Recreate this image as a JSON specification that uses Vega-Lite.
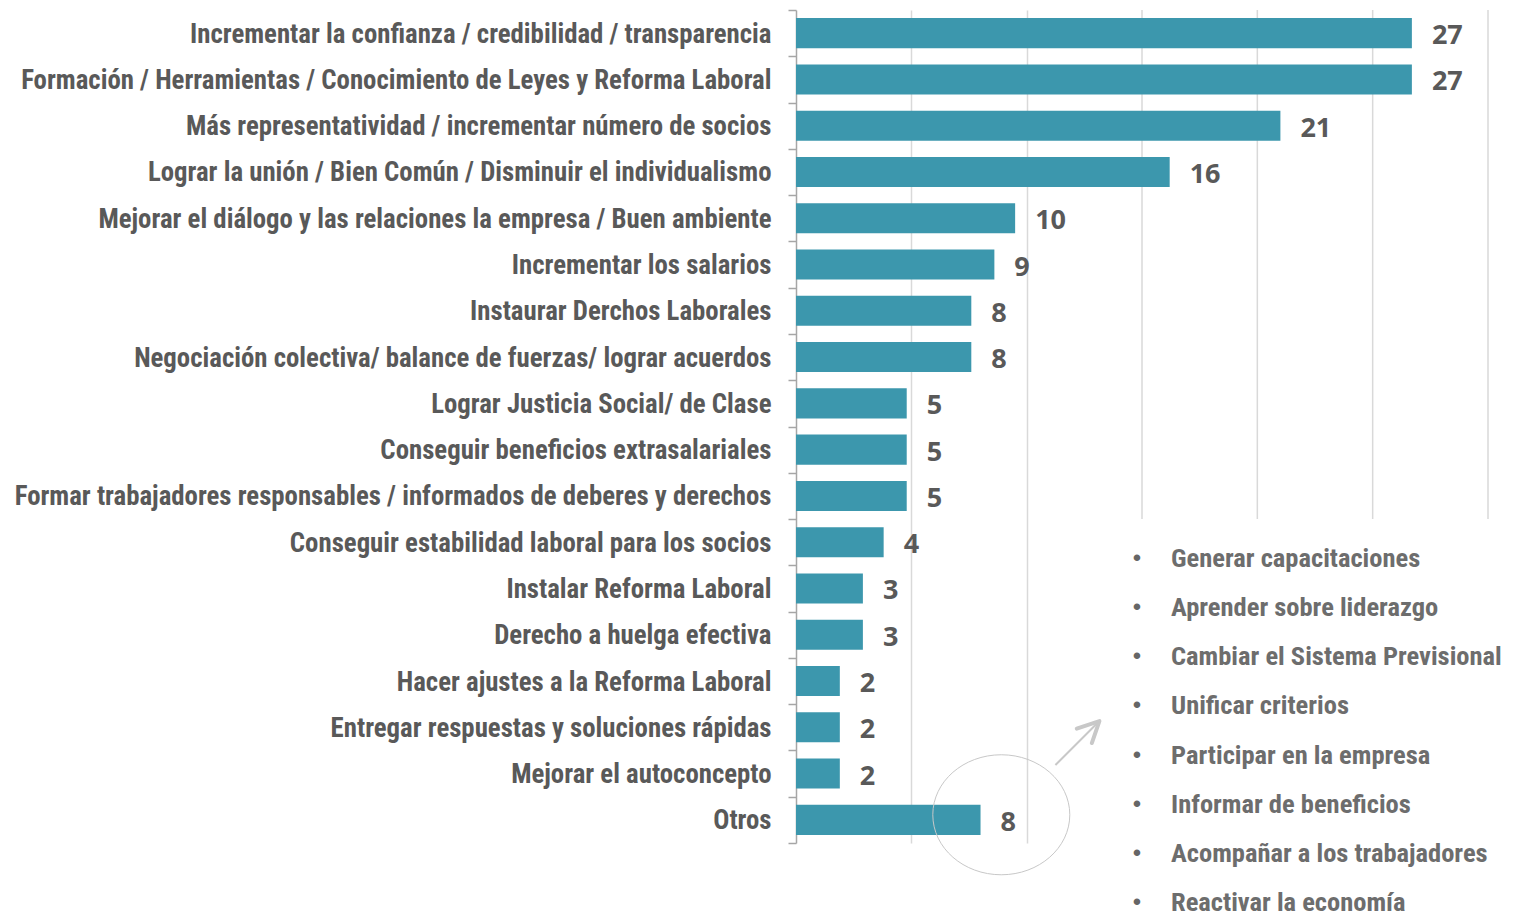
{
  "$schema": "https://vega.github.io/schema/vega-lite/v6.json",
  "width": 692,
  "height": 833,
  "autosize": {"type": "none"},
  "padding": {"left": 796, "top": 10, "right": 32, "bottom": 71},
  "background": "white",
  "config": {"view": {"stroke": null}},
  "datasets": {
    "bars": [
      {"cat": "Incrementar la confianza / credibilidad / transparencia", "value": 26.7},
      {"cat": "Formación / Herramientas / Conocimiento de Leyes y Reforma Laboral", "value": 26.7},
      {"cat": "Más representatividad / incrementar número de socios", "value": 21.0},
      {"cat": "Lograr la unión / Bien Común / Disminuir el individualismo", "value": 16.2},
      {"cat": "Mejorar el diálogo y las relaciones la empresa / Buen ambiente", "value": 9.5},
      {"cat": "Incrementar los salarios", "value": 8.6},
      {"cat": "Instaurar Derchos Laborales", "value": 7.6},
      {"cat": "Negociación colectiva/ balance de fuerzas/ lograr acuerdos", "value": 7.6},
      {"cat": "Lograr Justicia Social/ de Clase", "value": 4.8},
      {"cat": "Conseguir beneficios extrasalariales", "value": 4.8},
      {"cat": "Formar trabajadores responsables / informados de deberes y derechos", "value": 4.8},
      {"cat": "Conseguir estabilidad laboral para los socios", "value": 3.8},
      {"cat": "Instalar Reforma Laboral", "value": 2.9},
      {"cat": "Derecho a huelga efectiva", "value": 2.9},
      {"cat": "Hacer ajustes a la Reforma Laboral", "value": 1.9},
      {"cat": "Entregar respuestas y soluciones rápidas", "value": 1.9},
      {"cat": "Mejorar el autoconcepto", "value": 1.9},
      {"cat": "Otros", "value": 8.0}
    ],
    "grid": [{"tick": 15}, {"tick": 20}, {"tick": 25}, {"tick": 30}],
    "otros": [
      {"order": 1, "item": "Generar capacitaciones"},
      {"order": 2, "item": "Aprender sobre liderazgo"},
      {"order": 3, "item": "Cambiar el Sistema Previsional"},
      {"order": 4, "item": "Unificar criterios"},
      {"order": 5, "item": "Participar en la empresa"},
      {"order": 6, "item": "Informar de beneficios"},
      {"order": 7, "item": "Acompañar a los trabajadores"},
      {"order": 8, "item": "Reactivar la economía"}
    ]
  },
  "layer": [
    {
      "layer": [
        {
          "data": {"name": "grid"},
          "mark": {"type": "rule", "color": "#d9d9d9", "strokeWidth": 1.5},
          "encoding": {
            "x": {
              "field": "tick", "type": "quantitative",
              "scale": {"domain": [0, 30], "nice": false},
              "axis": {"grid": true, "values": [5, 10], "labels": false, "ticks": false, "domain": false, "title": null, "gridColor": "#d9d9d9", "gridWidth": 1.5}
            },
            "y": {
              "datum": "Incrementar la confianza / credibilidad / transparencia", "type": "nominal", "bandPosition": 0,
              "scale": {
                "paddingInner": 0, "paddingOuter": 0,
                "domain": [
                  "Incrementar la confianza / credibilidad / transparencia",
                  "Formación / Herramientas / Conocimiento de Leyes y Reforma Laboral",
                  "Más representatividad / incrementar número de socios",
                  "Lograr la unión / Bien Común / Disminuir el individualismo",
                  "Mejorar el diálogo y las relaciones la empresa / Buen ambiente",
                  "Incrementar los salarios",
                  "Instaurar Derchos Laborales",
                  "Negociación colectiva/ balance de fuerzas/ lograr acuerdos",
                  "Lograr Justicia Social/ de Clase",
                  "Conseguir beneficios extrasalariales",
                  "Formar trabajadores responsables / informados de deberes y derechos",
                  "Conseguir estabilidad laboral para los socios",
                  "Instalar Reforma Laboral",
                  "Derecho a huelga efectiva",
                  "Hacer ajustes a la Reforma Laboral",
                  "Entregar respuestas y soluciones rápidas",
                  "Mejorar el autoconcepto",
                  "Otros"
                ]
              },
              "axis": {
                "title": null,
                "domainColor": "#a6a6a6", "domainWidth": 1.5,
                "tickColor": "#a6a6a6", "tickWidth": 1.5, "tickSize": 8, "tickBand": "extent",
                "labelFont": "Roboto Condensed", "labelFontSize": 26.8, "labelFontWeight": "bold",
                "labelColor": "#595959", "labelPadding": 17, "labelLimit": 0, "labelOffset": 1
              }
            },
            "y2": {"datum": "Conseguir estabilidad laboral para los socios", "bandPosition": 0}
          }
        },
        {
          "data": {"name": "bars"},
          "mark": {"type": "bar", "color": "#3c97ad", "height": {"band": 0.65}},
          "encoding": {
            "x": {"field": "value", "type": "quantitative"},
            "y": {"field": "cat", "type": "nominal", "sort": null}
          }
        },
        {
          "data": {"name": "bars"},
          "mark": {"type": "text", "align": "left", "baseline": "middle", "dx": 20, "dy": 3, "font": "Open Sans", "fontSize": 27, "fontWeight": "bold", "color": "#595959"},
          "encoding": {
            "x": {"field": "value", "type": "quantitative"},
            "y": {"field": "cat", "type": "nominal", "sort": null},
            "text": {"field": "value", "type": "quantitative", "format": ".0f"}
          }
        },
        {
          "data": {"values": [{}]},
          "mark": {"type": "point", "shape": "M -1 0 A 1 0.876 0 1 1 1 0 A 1 0.876 0 1 1 -1 0 Z", "size": 18769, "filled": false, "stroke": "#c8c8c8", "strokeWidth": 1, "opacity": 1},
          "encoding": {
            "x": {"datum": 8.9, "type": "quantitative"},
            "y": {"datum": "Otros", "type": "nominal", "bandPosition": 0.39}
          }
        },
        {
          "data": {"values": [{}]},
          "mark": {"type": "point", "shape": "M -1 1 L 1 -1", "size": 1936, "filled": false, "stroke": "#c8c8c8", "strokeWidth": 2, "opacity": 1},
          "encoding": {
            "x": {"datum": 12.2, "type": "quantitative"},
            "y": {"datum": "Entregar respuestas y soluciones rápidas", "type": "nominal", "bandPosition": 0.84}
          }
        },
        {
          "data": {"values": [{}]},
          "mark": {"type": "point", "shape": "M -0.03 -0.655 L 1 -1 L 0.655 0", "size": 1936, "filled": false, "stroke": "#c8c8c8", "strokeWidth": 4, "strokeCap": "round", "strokeJoin": "round", "opacity": 1},
          "encoding": {
            "x": {"datum": 12.2, "type": "quantitative"},
            "y": {"datum": "Entregar respuestas y soluciones rápidas", "type": "nominal", "bandPosition": 0.84}
          }
        }
      ]
    },
    {
      "data": {"name": "otros"},
      "layer": [
        {
          "mark": {"type": "text", "text": "•", "align": "center", "baseline": "middle", "dx": -5, "font": "Liberation Sans", "fontSize": 24, "color": "#666666"},
          "encoding": {
            "x": {"datum": 15, "type": "quantitative"},
            "y": {"field": "order", "type": "quantitative", "scale": {"domain": [-10.17, 6.78], "reverse": true, "nice": false, "zero": false}, "axis": null}
          }
        },
        {
          "mark": {"type": "text", "align": "left", "baseline": "middle", "dx": 29, "font": "Roboto Condensed", "fontSize": 26.5, "fontWeight": "bold", "color": "#6d6d6d"},
          "encoding": {
            "x": {"datum": 15, "type": "quantitative"},
            "y": {"field": "order", "type": "quantitative", "axis": null},
            "text": {"field": "item", "type": "nominal"}
          }
        }
      ]
    }
  ],
  "resolve": {"scale": {"y": "independent"}, "axis": {"y": "independent"}}
}
